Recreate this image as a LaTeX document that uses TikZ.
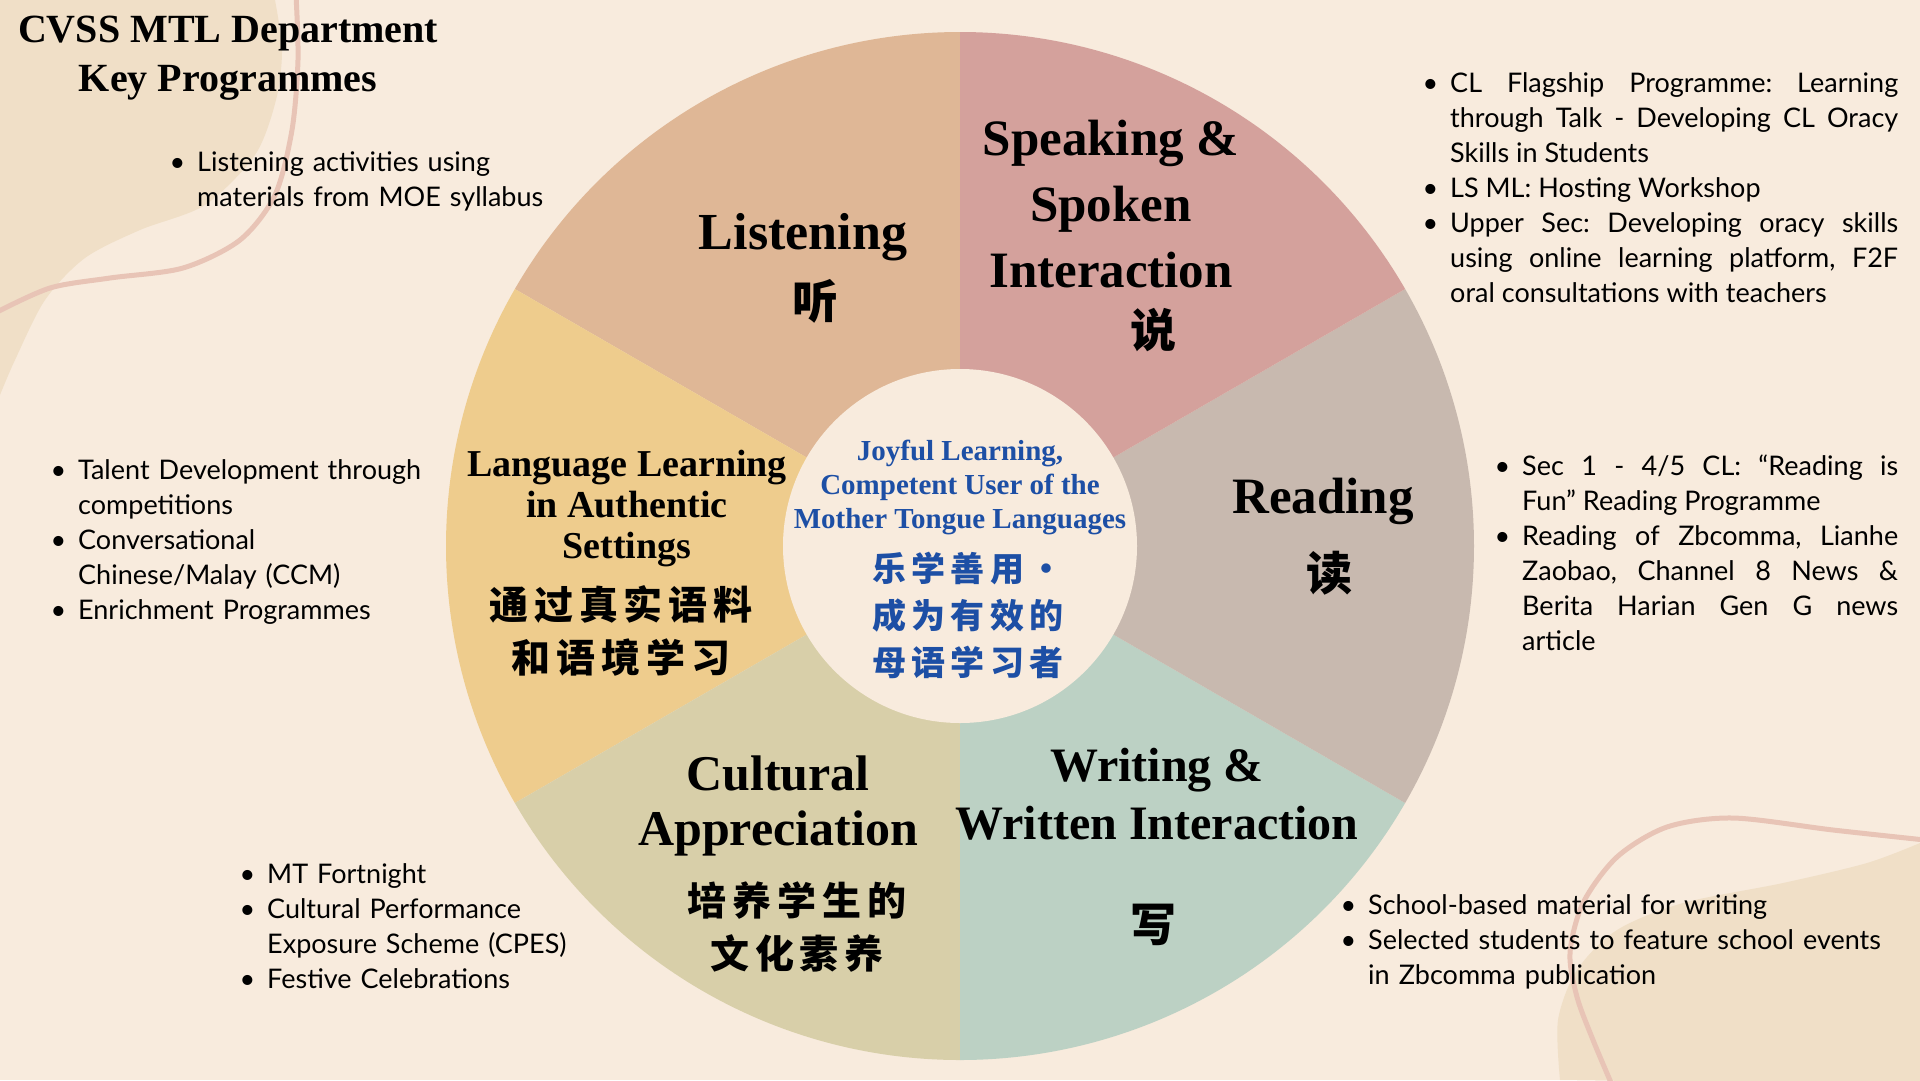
\documentclass[tikz,border=0pt]{standalone}
\usepackage{fontspec}
\usepackage{enumitem}
\setmainfont{Liberation Serif}
\newfontfamily\bodyfont{Lato}
\newfontfamily\zhfont[LetterSpace=15]{Noto Sans CJK SC}
\setlist[itemize]{label=\textbullet, leftmargin=30pt, labelsep=12pt, itemsep=0pt, topsep=0pt, parsep=0pt, partopsep=0pt}
\hyphenpenalty=10000
\frenchspacing
\definecolor{paper}{HTML}{F8EBDD}
\definecolor{sand}{HTML}{F0DFC7}
\definecolor{rose}{HTML}{E8C4B6}
\definecolor{listenfill}{HTML}{DFB796}
\definecolor{speakfill}{HTML}{D4A19C}
\definecolor{readfill}{HTML}{C8B9AF}
\definecolor{writefill}{HTML}{BCD1C4}
\definecolor{culturefill}{HTML}{D8CFA9}
\definecolor{langfill}{HTML}{EECC8D}
\definecolor{motto}{HTML}{1D4FA5}
\begin{document}
\begin{tikzpicture}[
		x=1pt, y=1pt,
		heading/.style={align=center, inner sep=0pt, font=\bfseries\fontsize{51}{66}\selectfont},
		zh/.style={align=center, inner sep=0pt, font=\zhfont\bfseries\fontsize{39}{53}\selectfont},
		zhone/.style={inner sep=0pt, font=\zhfont\bfseries\fontsize{46}{53}\selectfont},
		points/.style={inner sep=0pt, anchor=north west, align=left, font=\bodyfont\frenchspacing\fontsize{27}{35}\selectfont}
	]
	\useasboundingbox (0,0) rectangle (1920,-1080);
	\fill[paper] (0,0) rectangle (1920,-1080);

	\fill[sand] (0,0) -- plot[smooth] coordinates {(275,0) (282,-50) (276,-100) (255,-155) (205,-205) (140,-230) (85,-258) (45,-300) (15,-360) (0,-395)} -- cycle;
	\draw[rose, line width=5pt] plot[smooth] coordinates {(296,5) (298,-60) (292,-130) (275,-195) (240,-240) (183,-268) (110,-278) (50,-288) (-5,-313)};
	\fill[sand] (1925,-843) -- plot[smooth] coordinates {(1920,-843) (1867,-863) (1783,-883) (1683,-903) (1617,-930) (1577,-970) (1558,-1020) (1560,-1080)} -- (1925,-1085) -- cycle;
	\draw[rose, line width=5pt] plot[smooth] coordinates {(1925,-840) (1833,-830) (1733,-818) (1667,-827) (1617,-857) (1583,-903) (1570,-953) (1577,-997) (1593,-1040) (1612,-1085)};

	\coordinate (c) at (960,-546);
	\fill[listenfill] (c) -- ++(90:514) arc[start angle=90, end angle=150, radius=514] -- cycle;
	\fill[langfill] (c) -- ++(150:514) arc[start angle=150, end angle=210, radius=514] -- cycle;
	\fill[culturefill] (c) -- ++(210:514) arc[start angle=210, end angle=270, radius=514] -- cycle;
	\fill[writefill] (c) -- ++(270:514) arc[start angle=270, end angle=330, radius=514] -- cycle;
	\fill[readfill] (c) -- ++(-30:514) arc[start angle=-30, end angle=30, radius=514] -- cycle;
	\fill[speakfill] (c) -- ++(30:514) arc[start angle=30, end angle=90, radius=514] -- cycle;
	\node[circle, fill=paper, minimum size=354pt, inner sep=0pt] (core) at (c) {};

	\node[heading, font=\bfseries\fontsize{40}{49}\selectfont, anchor=north] (title) at (228,-16) {CVSS MTL Department\\Key Programmes};

	\node[heading, anchor=base, font=\bfseries\fontsize{52}{60}\selectfont] (listen) at (803,-249) {Listening};
	\node[zhone] (listenzh) at (815,-301) {听};
	\node[heading, anchor=north] (speak) at (1111,-120) {Speaking \&\\Spoken\\Interaction};
	\node[zhone] (speakzh) at (1153,-330) {说};
	\node[heading, anchor=base] (read) at (1323,-513) {Reading};
	\node[zhone] (readzh) at (1329,-573) {读};
	\node[heading, anchor=north, font=\bfseries\fontsize{48}{58}\selectfont] (write) at (1157,-748) {Writing \&\\Written Interaction};
	\node[zhone] (writezh) at (1153,-925) {写};
	\node[heading, anchor=north, font=\bfseries\fontsize{50}{55}\selectfont] (culture) at (778,-756) {Cultural\\Appreciation};
	\node[zh] (culturezh) at (797,-927) {培养学生的\\文化素养};
	\node[heading, anchor=north, font=\bfseries\fontsize{38}{41}\selectfont] (lang) at (627,-450) {Language Learning\\in Authentic\\Settings};
	\node[zh] (langzh) at (621,-631) {通过真实语料\\和语境学习};

	\node[heading, anchor=north, text=motto, font=\bfseries\fontsize{29}{34}\selectfont] (mottoen) at (960,-440) {Joyful Learning,\\Competent User of the\\Mother Tongue Languages};
	\node[zh, text=motto, font=\zhfont\bfseries\fontsize{34}{47}\selectfont] (mottozh) at (968,-615) {乐学善用·\\成为有效的\\母语学习者};

	\node[points, text width=420pt] (listenpts) at (167,-136) {\begin{itemize}
		\item Listening activities using\newline materials from MOE syllabus
	\end{itemize}};
	\node[points, text width=478pt, align=justify] (speakpts) at (1420,-57) {\begin{itemize}
		\item CL Flagship Programme: Learning\linebreak through Talk - Developing CL Oracy\linebreak Skills in Students
		\item LS ML: Hosting Workshop
		\item Upper Sec: Developing oracy skills\linebreak using online learning platform, F2F\linebreak oral consultations with teachers
	\end{itemize}};
	\node[points, text width=406pt, align=justify] (readpts) at (1492,-440) {\begin{itemize}
		\item Sec 1 - 4/5 CL: “Reading is\linebreak Fun” Reading Programme
		\item Reading of Zbcomma, Lianhe\linebreak Zaobao, Channel 8 News \&\linebreak Berita Harian Gen G news\linebreak article
	\end{itemize}};
	\node[points, text width=380pt] (langpts) at (48,-444) {\begin{itemize}
		\item Talent Development through\newline competitions
		\item Conversational\newline Chinese/Malay (CCM)
		\item Enrichment Programmes
	\end{itemize}};
	\node[points, text width=330pt] (culturepts) at (237,-848) {\begin{itemize}
		\item MT Fortnight
		\item Cultural Performance\newline Exposure Scheme (CPES)
		\item Festive Celebrations
	\end{itemize}};
	\node[points, text width=570pt] (writepts) at (1338,-879) {\begin{itemize}
		\item School-based material for writing
		\item Selected students to feature school events\newline in Zbcomma publication
	\end{itemize}};
\end{tikzpicture}
\end{document}
